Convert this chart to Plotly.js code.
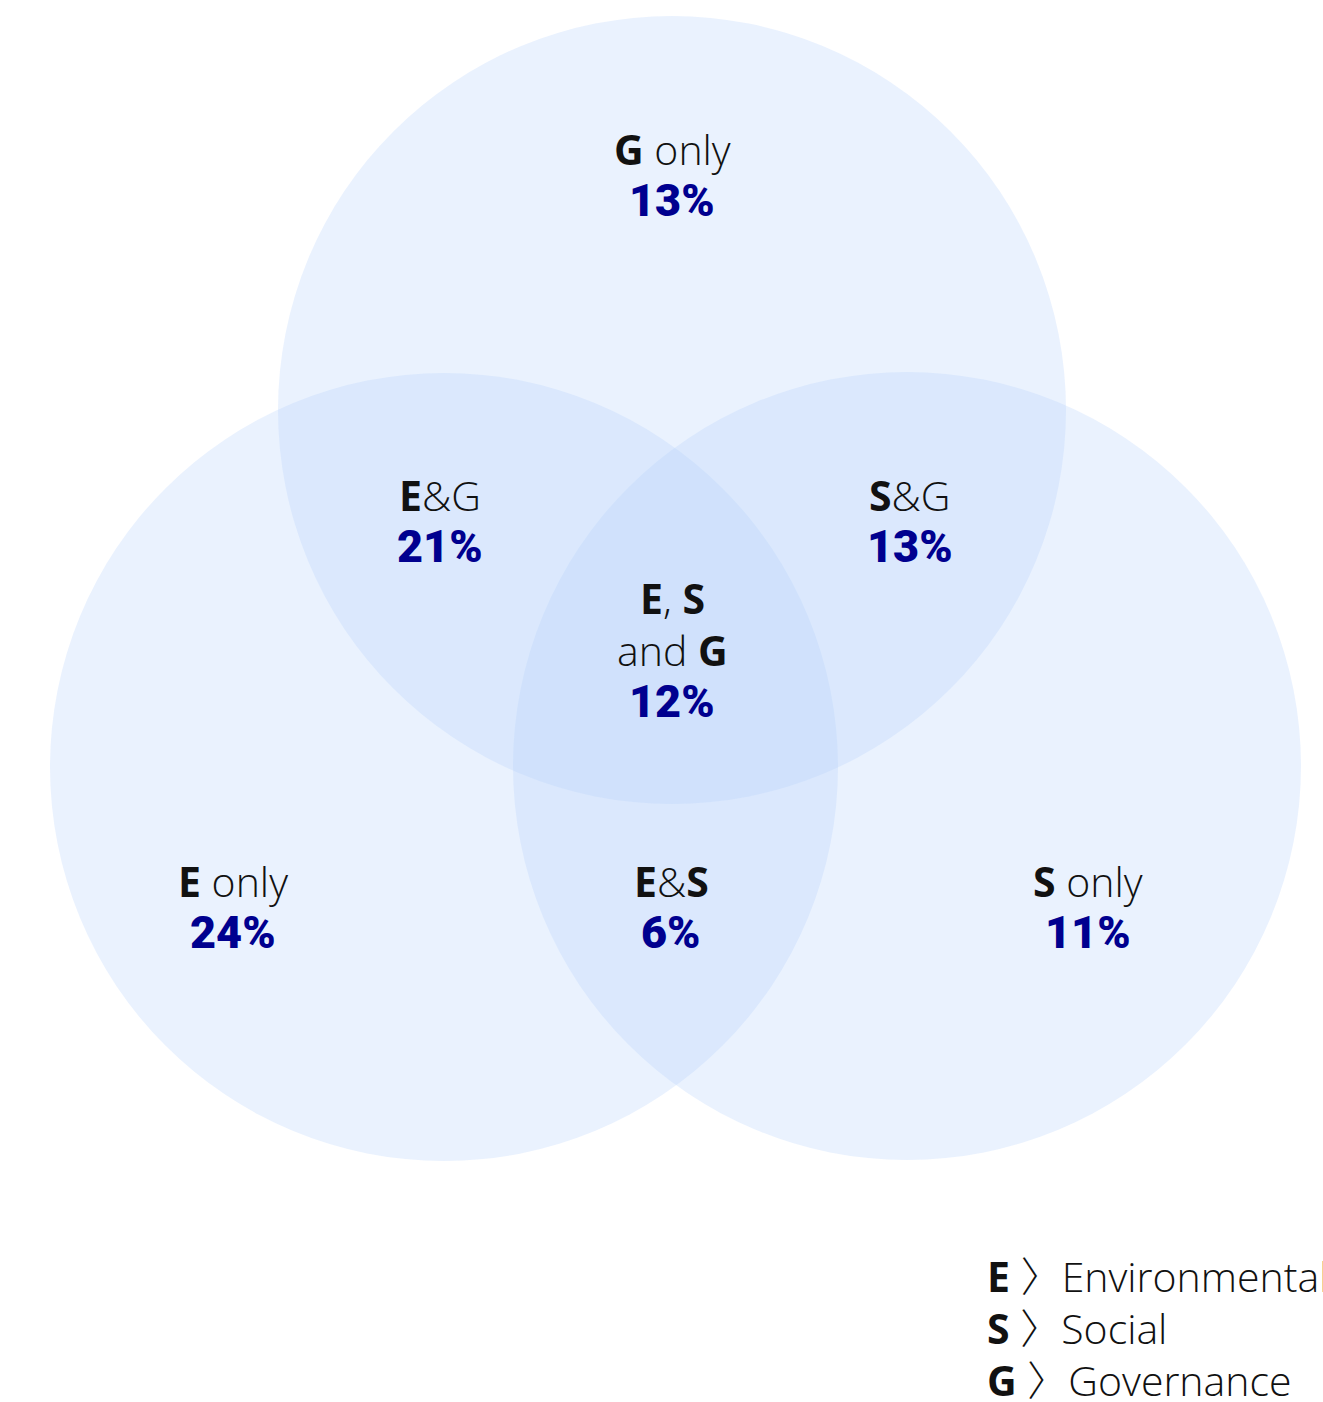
<!DOCTYPE html>
<html>
<head>
<meta charset="utf-8">
<script src="https://cdn.plot.ly/plotly-3.0.1.min.js"></script>
<style>html,body{margin:0;padding:0;background:#fff;}#chart{width:1323px;height:1402px;}</style>
</head>
<body>
<div id="chart"></div>
<script>
// ---- data ----
const setCodes = ['E', 'S', 'G'];
const setNames = ['Environmental', 'Social', 'Governance'];
const regionLabels = ['<b>G</b> only', '<b>E</b>&G', '<b>S</b>&G', '<b>E</b>, <b>S</b>|and <b>G</b>', '<b>E</b> only', '<b>E</b>&<b>S</b>', '<b>S</b> only'];
const regionValues = [13, 21, 13, 12, 24, 6, 11];

// ---- layout geometry (pixel-like data coordinates) ----
const circleCenters = { E: [444, 767], S: [907, 766], G: [672, 410] };
const circleRadius = 394;
const regionPos = [[672, 165], [440, 511], [910, 511], [672, 614], [233, 897], [671, 897], [1088, 897]];
const lineStep = 52;
const legendPos = [985, 1290];

const fill = 'rgba(182,210,251,0.286)';
const shapes = setCodes.map(k => {
  const [cx, cy] = circleCenters[k];
  return {
    type: 'circle', xref: 'x', yref: 'y',
    x0: cx - circleRadius, x1: cx + circleRadius,
    y0: cy - circleRadius, y1: cy + circleRadius,
    fillcolor: fill, line: { width: 0 }, layer: 'below'
  };
});

const baseFont = { family: '"Open Sans", Roboto, sans-serif', size: 41, color: '#111', weight: 300 };
const pctFont = { family: 'Roboto, "Noto Sans", sans-serif', size: 45, color: '#00008F', weight: 900 };
const off = 16;
const annotations = [];
regionLabels.forEach((lab, i) => {
  const [x, b] = regionPos[i];
  const lines = lab.split('|');
  lines.forEach((ln, j) => {
    annotations.push({ x: x, y: b + j * lineStep - off, xref: 'x', yref: 'y', text: ln, showarrow: false,
      xanchor: 'center', yanchor: 'middle', font: baseFont });
  });
  annotations.push({ x: x, y: b + lines.length * lineStep - off - 1, xref: 'x', yref: 'y', text: regionValues[i] + '%',
    showarrow: false, xanchor: 'center', yanchor: 'middle', font: pctFont });
});
const chevron = '<span style="font-family:\'Noto Sans CJK JP\';font-weight:300">\u3009</span>';
setCodes.forEach((c, i) => {
  annotations.push({ x: legendPos[0], y: legendPos[1] + i * lineStep - off, xref: 'x', yref: 'y',
    text: '<b>' + c + '</b> ' + chevron + setNames[i], showarrow: false, xanchor: 'left', yanchor: 'middle',
    font: baseFont });
});

const layout = {
  width: 1323, height: 1402,
  margin: { l: 0, r: 0, t: 0, b: 0 },
  paper_bgcolor: '#fff', plot_bgcolor: '#fff',
  xaxis: { range: [0, 1323], visible: false, fixedrange: true },
  yaxis: { range: [1402, 0], visible: false, fixedrange: true },
  showlegend: false,
  shapes: shapes,
  annotations: annotations
};
Plotly.newPlot('chart', [{ x: [], y: [], type: 'scatter' }], layout, { staticPlot: true, displayModeBar: false });
</script>
</body>
</html>
